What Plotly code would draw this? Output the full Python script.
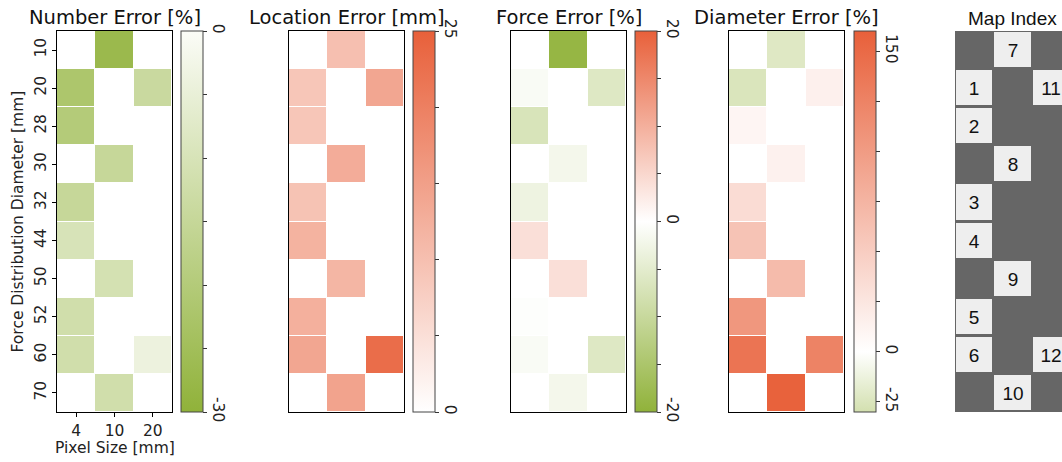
import plotly.graph_objects as go
import numpy as np

# ---------------- data ----------------
pixel_sizes = ["4", "10", "20"]
diameters = ["10", "20", "28", "30", "32", "44", "50", "52", "60", "70"]
N = None
number_error = [
    [N, -27, N],
    [-22, N, -14],
    [-20, N, N],
    [N, -15, N],
    [-15, N, N],
    [-10, N, N],
    [N, -11, N],
    [-12, N, N],
    [-12, N, -4],
    [N, -12, N],
]
location_error = [
    [N, 10, N],
    [9, N, 14],
    [9, N, N],
    [N, 13, N],
    [9.5, N, N],
    [12, N, N],
    [N, 11.5, N],
    [12.5, N, N],
    [14, N, 23],
    [N, 14.5, N],
]
force_error = [
    [N, -19, N],
    [-1, N, -6],
    [-7, N, N],
    [N, -2, N],
    [-3, N, N],
    [4, N, N],
    [N, 4, N],
    [-0.3, N, N],
    [-1, N, -6],
    [N, -2, N],
]
diameter_error = [
    [N, -22, N],
    [-25, N, 15],
    [10, N, N],
    [N, 14, N],
    [35, N, N],
    [60, N, N],
    [N, 68, N],
    [105, N, N],
    [140, N, 125],
    [N, 158, N],
]
map_index = [
    [N, 7, N],
    [1, N, 11],
    [2, N, N],
    [N, 8, N],
    [3, N, N],
    [4, N, N],
    [N, 9, N],
    [5, N, N],
    [6, N, 12],
    [N, 10, N],
]
titles = ["Number Error [%]", "Location Error [mm]", "Force Error [%]", "Diameter Error [%]"]
cb_ranges = [(-30, 0), (0, 25), (-20, 20), (-30, 160)]
cb_tickvals = [
    [-30, -25, -20, -15, -10, -5, 0],
    [0, 5, 10, 15, 20, 25],
    [-20, -15, -10, -5, 0, 5, 10, 15, 20],
    [-25, 0, 25, 50, 75, 100, 125, 150],
]
cb_ticktext = [
    ["-30", "", "", "", "", "", "0"],
    ["0", "", "", "", "", "25"],
    ["-20", "", "", "", "0", "", "", "", "20"],
    ["-25", "0", "", "", "", "", "", "150"],
]

# ---------------- styling ----------------
W, H = 1062, 462
GREEN = "#90b23a"
RED = "#e8603a"
scales = [
    [[0, GREEN], [1, "#fbfcf7"]],
    [[0, "#ffffff"], [1, RED]],
    [[0, GREEN], [0.5, "#ffffff"], [1, RED]],
    [[0, "#d3e0af"], [30 / 190, "#ffffff"], [1, RED]],
]
top_px, bot_px = 31, 412
y0 = 1 - bot_px / H
y1 = 1 - top_px / H
hm_px = [(57, 172), (289, 404), (511, 626), (729, 844)]
cb_px = [181, 413, 635, 854]
FONT = "DejaVu Sans"
TICK = 15.5
TITLE = 19.5

fig = go.Figure()

def to_z(rows):
    return [[np.nan if v is None else v for v in r] for r in rows]

datasets = [number_error, location_error, force_error, diameter_error]
for i, data in enumerate(datasets):
    ax = "" if i == 0 else str(i + 1)
    zmin, zmax = cb_ranges[i]
    fig.add_trace(go.Heatmap(
        z=to_z(data), x=pixel_sizes, y=diameters,
        xaxis="x" + ax, yaxis="y" + ax,
        colorscale=scales[i], zmin=zmin, zmax=zmax,
        xgap=1, ygap=1, hoverinfo="skip",
        colorbar=dict(
            x=cb_px[i] / W, xanchor="left", xpad=0, ypad=0,
            y=y0, yanchor="bottom", len=(bot_px - top_px) / H, lenmode="fraction",
            thickness=22, thicknessmode="pixels",
            outlinewidth=1, outlinecolor="#444444",
            tickmode="array", tickvals=cb_tickvals[i], ticktext=cb_ticktext[i],
            ticks="outside", ticklen=4, tickcolor="#333333", tickangle=90,
            tickfont=dict(family=FONT, size=TICK, color="#222222"),
        ),
    ))
    xa = dict(domain=[hm_px[i][0] / W, hm_px[i][1] / W], anchor="y" + ax,
              type="category", showline=True, mirror=True, linecolor="black", linewidth=1,
              showgrid=False, zeroline=False, fixedrange=True)
    ya = dict(domain=[y0, y1], anchor="x" + ax, type="category", autorange="reversed",
              showline=True, mirror=True, linecolor="black", linewidth=1,
              showgrid=False, zeroline=False, fixedrange=True)
    if i == 0:
        xa.update(ticks="outside", ticklen=4, tickcolor="black",
                  tickfont=dict(family=FONT, size=TICK, color="#222222"))
        ya.update(ticks="outside", ticklen=4, tickcolor="black", tickangle=-90,
                  tickfont=dict(family=FONT, size=TICK, color="#222222"))
    else:
        xa.update(showticklabels=False, ticks="")
        ya.update(showticklabels=False, ticks="")
    fig.update_layout(**{"xaxis" + ax: xa, "yaxis" + ax: ya})
    fig.add_annotation(text=titles[i], x=(hm_px[i][0] + hm_px[i][1]) / 2 / W, y=y1,
                       xref="paper", yref="paper", xanchor="center", yanchor="bottom",
                       yshift=0, showarrow=False,
                       font=dict(family=FONT, size=TITLE, color="#111111"))

# Map index panel
mi_z = [[np.nan if v is None else 1 for v in r] for r in map_index]
mi_text = [["" if v is None else str(v) for v in r] for r in map_index]
fig.add_trace(go.Heatmap(
    z=mi_z, x=[0, 1, 2], y=list(range(len(diameters))),
    xaxis="x5", yaxis="y5", text=mi_text, texttemplate="%{text}",
    textfont=dict(family="Liberation Sans", size=19, color="#111111"),
    colorscale=[[0, "#eeeeee"], [1, "#eeeeee"]], showscale=False,
    xgap=2, ygap=3, hoverinfo="skip",
))
fig.update_layout(
    xaxis5=dict(domain=[955 / W, 1.0], anchor="y5", range=[-0.5, 2.29],
                showticklabels=False, ticks="", showgrid=False, zeroline=False, showline=False),
    yaxis5=dict(domain=[y0, y1], anchor="x5", range=[9.5, -0.5],
                showticklabels=False, ticks="", showgrid=False, zeroline=False, showline=False),
)
fig.add_shape(type="rect", xref="x5", yref="y5", x0=-0.5, x1=2.5, y0=-0.5, y1=9.5,
              fillcolor="#666666", line=dict(width=0), layer="below")
fig.add_annotation(text="Map Index", x=1012 / W, y=y1, xref="paper", yref="paper",
                   xanchor="center", yanchor="bottom", yshift=0, showarrow=False,
                   font=dict(family="Liberation Sans", size=19, color="#111111"))

# axis titles
fig.add_annotation(text="Force Distribution Diameter [mm]", x=17 / W, y=(y0 + y1) / 2,
                   xref="paper", yref="paper", textangle=-90, showarrow=False,
                   xanchor="center", yanchor="middle",
                   font=dict(family=FONT, size=TICK, color="#222222"))
fig.add_annotation(text="Pixel Size [mm]", x=114.5 / W, y=1 - 448 / H,
                   xref="paper", yref="paper", showarrow=False,
                   xanchor="center", yanchor="middle",
                   font=dict(family=FONT, size=TICK, color="#222222"))

fig.update_layout(
    width=W, height=H, margin=dict(l=0, r=0, t=0, b=0),
    paper_bgcolor="white", plot_bgcolor="white", showlegend=False,
    font=dict(family=FONT),
)
fig.write_html("out.html")
